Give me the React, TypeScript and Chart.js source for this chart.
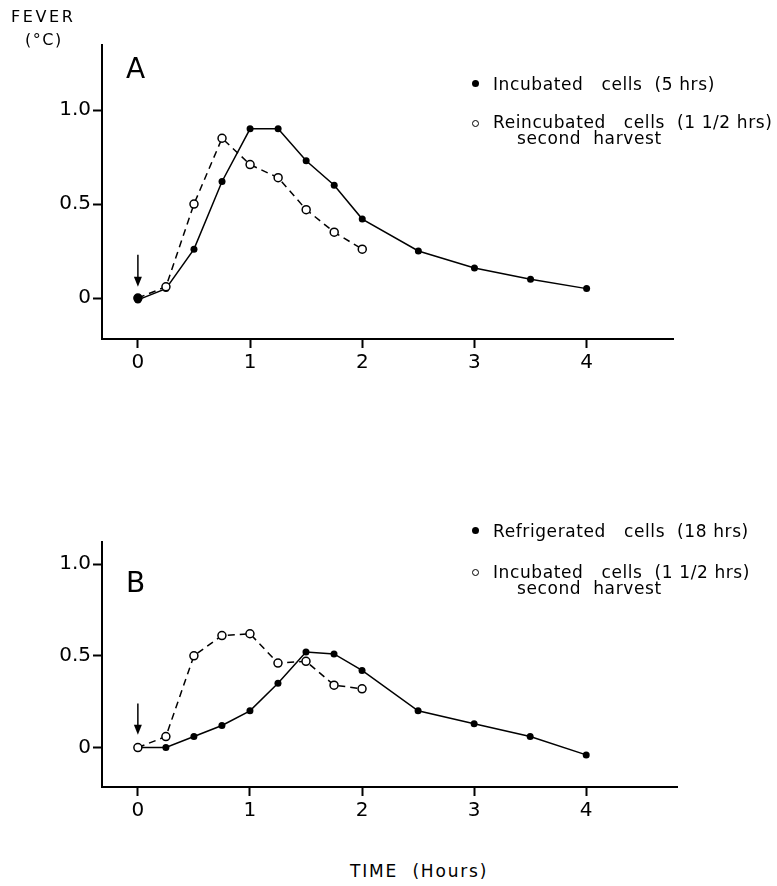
import React, { useEffect, useRef } from "react";
import { Chart, registerables } from "chart.js";

Chart.register(...registerables);

// ---------- DATA ----------
const hoursLong = [0, 0.25, 0.5, 0.75, 1, 1.25, 1.5, 1.75, 2, 2.5, 3, 3.5, 4];
const hoursShort = [0, 0.25, 0.5, 0.75, 1, 1.25, 1.5, 1.75, 2];

// Panel A
const feverA_incubated = [-0.01, 0.05, 0.26, 0.62, 0.9, 0.9, 0.73, 0.6, 0.42, 0.25, 0.16, 0.1, 0.05];
const feverA_reincubated = [0, 0.06, 0.5, 0.85, 0.71, 0.64, 0.47, 0.35, 0.26];

// Panel B
const feverB_refrigerated = [0, 0, 0.06, 0.12, 0.2, 0.35, 0.52, 0.51, 0.42, 0.2, 0.13, 0.06, -0.04];
const feverB_incubated = [0, 0.06, 0.5, 0.61, 0.62, 0.46, 0.47, 0.34, 0.32];

const xTickValues = [0, 1, 2, 3, 4];
const yTickValues = [0, 0.5, 1.0];
const yTickLabels = ["0", "0.5", "1.0"];

const legendA = ["Incubated   cells  (5 hrs)", "Reincubated   cells  (1 1/2 hrs)", "second  harvest"];
const legendB = ["Refrigerated   cells  (18 hrs)", "Incubated   cells  (1 1/2 hrs)", "second  harvest"];

const FONT = '"DejaVu Sans", "Liberation Sans", Arial, sans-serif';

const arrowPlugin = {
  id: "arrowMark",
  afterDatasetsDraw(chart: any, _args: any, opts: any) {
    if (!opts || opts.x === undefined) return;
    const { ctx } = chart;
    const xs = chart.scales.x;
    const ys = chart.scales.y;
    const px = xs.getPixelForValue(opts.x);
    const y1 = ys.getPixelForValue(opts.from);
    const y2 = ys.getPixelForValue(opts.to);
    ctx.save();
    ctx.strokeStyle = "#000";
    ctx.fillStyle = "#000";
    ctx.lineWidth = 1.5;
    ctx.beginPath();
    ctx.moveTo(px, y1);
    ctx.lineTo(px, y2 - 5);
    ctx.stroke();
    ctx.beginPath();
    ctx.moveTo(px - 4, y2 - 10);
    ctx.lineTo(px + 4, y2 - 10);
    ctx.lineTo(px, y2);
    ctx.closePath();
    ctx.fill();
    ctx.restore();
  },
};

function buildConfig(
  solid: number[],
  dashed: number[],
  labels: string[],
  yMin: number,
  yMax: number,
  xMax: number,
  pad: { left: number; top: number; right: number; bottom: number },
  arrow: { x: number; from: number; to: number },
  firstFilled: boolean
): any {
  const axisCommon = {
    grid: {
      display: true,
      drawOnChartArea: false,
      drawTicks: true,
      tickLength: 9,
      tickWidth: 2,
      tickColor: "#000",
    },
    border: { display: true, color: "#000", width: 2 },
  };
  return {
    type: "line",
    data: {
      datasets: [
        {
          label: labels[1],
          data: hoursShort.map((h, i) => ({ x: h, y: dashed[i] })),
          borderColor: "#000",
          borderWidth: 1.5,
          borderDash: [7, 5],
          pointRadius: 4,
          pointBackgroundColor: hoursShort.map((_, i) => (i === 0 && firstFilled ? "#000" : "#fff")),
          pointBorderColor: "#000",
          pointBorderWidth: 1.5,
          tension: 0,
          fill: false,
          order: 1,
        },
        {
          label: labels[0],
          data: hoursLong.map((h, i) => ({ x: h, y: solid[i] })),
          borderColor: "#000",
          borderWidth: 1.5,
          pointRadius: 3.5,
          pointBackgroundColor: "#000",
          pointBorderColor: "#000",
          pointBorderWidth: 0,
          tension: 0,
          fill: false,
          order: 2,
        },
      ],
    },
    options: {
      responsive: false,
      animation: false,
      devicePixelRatio: 1,
      layout: { padding: pad },
      plugins: {
        legend: { display: false },
        tooltip: { enabled: false },
        arrowMark: arrow,
      },
      scales: {
        x: {
          type: "linear",
          min: -0.32,
          max: xMax,
          ...axisCommon,
          afterBuildTicks: (s: any) => {
            s.ticks = xTickValues.map((v) => ({ value: v }));
          },
          afterFit: (s: any) => {
            s.height = 40;
          },
          ticks: {
            color: "#000",
            font: { family: FONT, size: 20 },
            padding: 3,
            maxRotation: 0,
            autoSkip: false,
            callback: (v: any) => String(v),
          },
        },
        y: {
          type: "linear",
          min: yMin,
          max: yMax,
          ...axisCommon,
          afterBuildTicks: (s: any) => {
            s.ticks = yTickValues.map((v) => ({ value: v }));
          },
          afterFit: (s: any) => {
            s.width = 90;
          },
          ticks: {
            color: "#000",
            font: { family: FONT, size: 20 },
            padding: 2,
            autoSkip: false,
            callback: (v: any) => {
              const i = yTickValues.indexOf(Number(v));
              return i >= 0 ? yTickLabels[i] : "";
            },
          },
        },
      },
    },
    plugins: [arrowPlugin],
  };
}

const txt = (left: number, baseline: number, size: number, s: string, extra: any = {}) => (
  <div
    style={{
      position: "absolute",
      left,
      top: baseline - size * 0.846,
      fontSize: size,
      lineHeight: `${size}px`,
      whiteSpace: "pre",
      fontFamily: FONT,
      color: "#000",
      ...extra,
    }}
  >
    {s}
  </div>
);

const dot = (cx: number, cy: number, filled: boolean) => (
  <div
    style={{
      position: "absolute",
      left: cx - 3.5,
      top: cy - 3.5,
      width: filled ? 7 : 5,
      height: filled ? 7 : 5,
      borderRadius: "50%",
      background: filled ? "#000" : "#fff",
      border: filled ? "none" : "1.2px solid #000",
    }}
  />
);

export default function App() {
  const refA = useRef<HTMLCanvasElement>(null);
  const refB = useRef<HTMLCanvasElement>(null);

  useEffect(() => {
    const a = new Chart(
      refA.current as HTMLCanvasElement,
      buildConfig(
        feverA_incubated,
        feverA_reincubated,
        [legendA[0], legendA[1]],
        -0.218,
        1.346,
        4.77,
        { left: 12, top: 45, right: 104, bottom: 21 },
        { x: 0, from: 0.23, to: 0.06 },
        true
      )
    );
    const b = new Chart(
      refB.current as HTMLCanvasElement,
      buildConfig(
        feverB_refrigerated,
        feverB_incubated,
        [legendB[0], legendB[1]],
        -0.215,
        1.12,
        4.81,
        { left: 12, top: 92, right: 100, bottom: 23 },
        { x: 0, from: 0.24, to: 0.07 },
        false
      )
    );
    return () => {
      a.destroy();
      b.destroy();
    };
  }, []);

  return (
    <div
      style={{
        position: "absolute",
        left: 0,
        top: 0,
        width: 777,
        height: 886,
        background: "#fff",
        overflow: "hidden",
      }}
    >
      <canvas ref={refA} width={777} height={400} style={{ position: "absolute", left: 0, top: 0 }} />
      <canvas ref={refB} width={777} height={400} style={{ position: "absolute", left: 0, top: 450 }} />

      {txt(11, 23, 16, "FEVER", { letterSpacing: "2.6px" })}
      {txt(25, 46, 16, "(°C)", { letterSpacing: "1.5px" })}
      {txt(126, 79, 28, "A")}
      {txt(126, 593, 28, "B")}

      {dot(475, 83, true)}
      {txt(493, 90, 17, legendA[0], { letterSpacing: "0.6px" })}
      {dot(475, 123, false)}
      {txt(493, 128, 17, legendA[1], { letterSpacing: "0.6px" })}
      {txt(517, 144, 17, legendA[2], { letterSpacing: "0.6px" })}

      {dot(475, 530, true)}
      {txt(493, 537, 17, legendB[0], { letterSpacing: "0.6px" })}
      {dot(475, 572, false)}
      {txt(493, 578, 17, legendB[1], { letterSpacing: "0.6px" })}
      {txt(517, 594, 17, legendB[2], { letterSpacing: "0.6px" })}

      {txt(350, 877, 17, "TIME  (Hours)", { letterSpacing: "1.8px" })}
    </div>
  );
}
